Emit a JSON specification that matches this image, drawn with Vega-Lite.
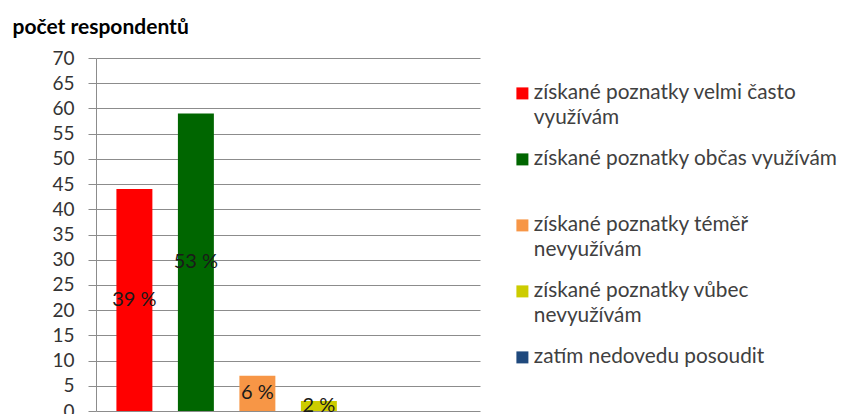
{
  "$schema": "https://vega.github.io/schema/vega-lite/v6.json",
  "autosize": "none",
  "width": 384,
  "height": 353,
  "padding": {"left": 96, "top": 58, "right": 363, "bottom": 3},
  "background": "white",
  "config": {
    "view": {"stroke": null},
    "font": "Lato",
    "style": {"guide-label": {"lineHeight": 25}},
    "axisY": {
      "labelOverlap": false,
      "grid": true,
      "gridColor": "#8c8c8c",
      "gridWidth": 1,
      "domainColor": "#8c8c8c",
      "tickColor": "#8c8c8c",
      "tickSize": 8,
      "labelPadding": 14,
      "labelFontSize": 19,
      "labelColor": "#333333",
      "titleAngle": 0,
      "titleAlign": "left",
      "titleBaseline": "middle",
      "titleX": -84,
      "titleY": -31,
      "titleFontSize": 21,
      "titleFontWeight": "bold",
      "titleColor": "#000000"
    }
  },
  "data": {
    "values": [
      {"kategorie": "získané poznatky velmi často využívám", "pocet": 44, "podil": "39 %"},
      {"kategorie": "získané poznatky občas využívám", "pocet": 59, "podil": "53 %"},
      {"kategorie": "získané poznatky téměř nevyužívám", "pocet": 7, "podil": "6 %"},
      {"kategorie": "získané poznatky vůbec nevyužívám", "pocet": 2, "podil": "2 %"},
      {"kategorie": "zatím nedovedu posoudit", "pocet": 0, "podil": ""}
    ]
  },
  "encoding": {
    "x": {
      "field": "kategorie",
      "type": "nominal",
      "sort": null,
      "axis": null,
      "scale": {"paddingInner": 0.415, "paddingOuter": 0.83, "align": 0.2}
    }
  },
  "layer": [
    {
      "mark": {"type": "bar"},
      "encoding": {
        "y": {
          "field": "pocet",
          "type": "quantitative",
          "scale": {"domain": [0, 70], "nice": false},
          "axis": {
            "values": [0, 5, 10, 15, 20, 25, 30, 35, 40, 45, 50, 55, 60, 65, 70],
            "title": "počet respondentů"
          }
        },
        "color": {
          "field": "kategorie",
          "type": "nominal",
          "sort": null,
          "scale": {
            "domain": [
              "získané poznatky velmi často využívám",
              "získané poznatky občas využívám",
              "získané poznatky téměř nevyužívám",
              "získané poznatky vůbec nevyužívám",
              "zatím nedovedu posoudit"
            ],
            "range": ["#ff0000", "#006600", "#f79646", "#cccc00", "#1f497d"]
          },
          "legend": {
            "title": null,
            "orient": "none",
            "legendX": 416,
            "legendY": 25,
            "padding": 0,
            "symbolType": "square",
            "symbolSize": 144,
            "symbolStrokeWidth": 0,
            "labelFontSize": 20.8,
            "labelColor": "#404040",
            "labelLimit": 400,
            "labelOffset": 1,
            "rowPadding": 19,
            "labelExpr": "datum.label == 'získané poznatky velmi často využívám' ? ['získané poznatky velmi často', 'využívám'] : datum.label == 'získané poznatky občas využívám' ? ['získané poznatky občas využívám', ''] : datum.label == 'získané poznatky téměř nevyužívám' ? ['získané poznatky téměř', 'nevyužívám'] : datum.label == 'získané poznatky vůbec nevyužívám' ? ['získané poznatky vůbec', 'nevyužívám'] : datum.label"
          }
        }
      }
    },
    {
      "mark": {"type": "text", "fontSize": 20, "color": "#1a1a1a", "baseline": "middle"},
      "encoding": {
        "y": {
          "field": "pocet",
          "type": "quantitative",
          "stack": "zero",
          "bandPosition": 0.5,
          "axis": {
            "values": [0, 5, 10, 15, 20, 25, 30, 35, 40, 45, 50, 55, 60, 65, 70],
            "title": "počet respondentů"
          }
        },
        "text": {"field": "podil"}
      }
    }
  ]
}
